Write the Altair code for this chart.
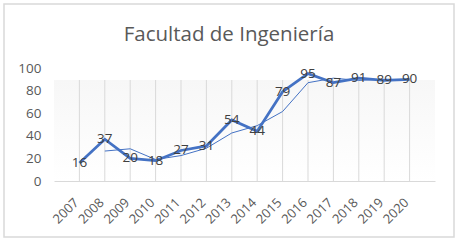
import altair as alt
import pandas as pd

years = ["2007", "2008", "2009", "2010", "2011", "2012", "2013",
         "2014", "2015", "2016", "2017", "2018", "2019", "2020"]
values = [16, 37, 20, 18, 27, 31, 54, 44, 79, 95, 87, 91, 89, 90]
trend_years = years[1:]
trend_values = [26.5, 28.5, 19, 22.5, 29, 42.5, 49, 61.5, 87, 91, 89, 90, 89.5]
title_text = ["Facultad de Ingeniería"]

df = pd.DataFrame({"year": years, "value": values})
dft = pd.DataFrame({"year": trend_years, "value": trend_values})
dftitle = pd.DataFrame({"t": title_text})

W, H = 381, 113
FONT = "Open Sans"
BLUE = "#4472C4"

x_enc = alt.X("year:N", sort=years, scale=alt.Scale(domain=years, paddingOuter=0.5),
              axis=alt.Axis(title=None, labelAngle=-45, labelAlign="right",
                            labelBaseline="alphabetic", labelPadding=22, ticks=False,
                            domain=True, domainColor="#d9d9d9", domainWidth=1,
                            labelColor="#595959", labelFont=FONT, labelFontSize=13,
                            grid=False))
y_scale = alt.Scale(domain=[0, 100], nice=False)
y_enc = alt.Y("value:Q", scale=y_scale,
              axis=alt.Axis(title=None, values=[0, 20, 40, 60, 80, 100], ticks=False,
                            domain=False, grid=False, labelPadding=13,
                            labelColor="#595959", labelFont=FONT, labelFontSize=13.5))

base = alt.Chart(df)

border = alt.Chart(dftitle).mark_rect(fill="white", fillOpacity=0, stroke="#d9d9d9",
                                      strokeWidth=1.5).encode(
    x=alt.value(-50), x2=alt.value(400), y=alt.value(-64), y2=alt.value(169)
)

title = alt.Chart(dftitle).mark_text(font=FONT, fontSize=20.5, color="#595959",
                                     align="center", baseline="alphabetic").encode(
    x=alt.value(175), y=alt.value(-27), text="t:N"
)

bg = base.mark_rect(
    color=alt.Gradient(gradient="linear", x1=0, y1=0, x2=0, y2=1,
                       stops=[alt.GradientStop(offset=0, color="#f7f7f7"),
                              alt.GradientStop(offset=1, color="#ffffff")])
).encode(x=alt.value(0), x2=alt.value(W), y=alt.value(12), y2=alt.value(H))

grid = base.mark_rule(color="#d9d9d9", strokeWidth=1).encode(
    x=x_enc, y=alt.value(12), y2=alt.value(H)
)

trend = alt.Chart(dft).mark_line(color=BLUE, strokeWidth=1).encode(x=x_enc, y=y_enc)

line = base.mark_line(color=BLUE, strokeWidth=2.75).encode(x=x_enc, y=y_enc)

labels = base.mark_text(font=FONT, fontSize=13.5, color="#404040",
                        align="center", baseline="middle").encode(
    x=x_enc, y=y_enc, text="value:Q"
)

chart = alt.layer(border, title, bg, grid, trend, line, labels).properties(
    width=W, height=H,
    autosize=alt.AutoSizeParams(type="none"),
    padding={"left": 54, "top": 68, "right": 26, "bottom": 63},
    background="white",
).configure_view(stroke=None)

chart.save("out.html", embed_options={"renderer": "svg", "actions": False})
